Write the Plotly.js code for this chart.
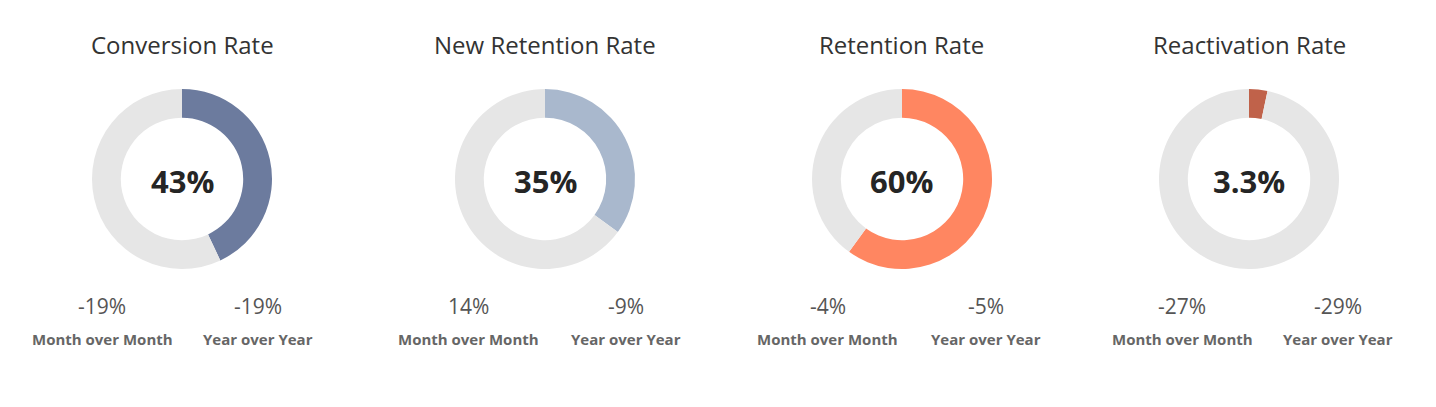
<!DOCTYPE html>
<html>
<head>
<meta charset="utf-8">
<script src="https://cdn.plot.ly/plotly-3.0.1.min.js"></script>
<style>html,body{margin:0;padding:0;background:#fff;}#chart{width:1436px;height:407px;}</style>
</head>
<body>
<div id="chart"></div>
<script>
const titles = ["Conversion Rate", "New Retention Rate", "Retention Rate", "Reactivation Rate"];
const rates = [43, 35, 60, 3.3];
const momChange = [-19, 14, -4, -27];
const yoyChange = [-19, -9, -5, -29];
const changeLabels = ["Month over Month", "Year over Year"];

const colors = ["#6C7B9E", "#A9B8CD", "#FF8661", "#C0624A"];
const restColor = "#E6E6E6";
const W = 1436, H = 407;
const centersX = [182, 545, 902, 1249];
const centerY = 179;
const R = 90;
const momX = [102, 468, 828, 1182];
const yoyX = [258, 626, 986, 1338];

const font = "Segoe UI, 'Open Sans', 'Noto Sans', sans-serif";
const traces = [];
const annotations = [];
const px = x => x / W;
const py = y => 1 - y / H;

rates.forEach((v, i) => {
  traces.push({
    type: "pie",
    values: [v, 100 - v],
    labels: ["value", "rest"],
    marker: {colors: [colors[i], restColor], line: {width: 0}},
    hole: 0.68,
    sort: false,
    direction: "clockwise",
    rotation: 0,
    textinfo: "none",
    hoverinfo: "none",
    showlegend: false,
    domain: {x: [px(centersX[i] - R), px(centersX[i] + R)], y: [py(centerY + R), py(centerY - R)]}
  });
  annotations.push({text: titles[i], x: px(centersX[i]), y: py(45), xref: "paper", yref: "paper", showarrow: false,
    font: {family: font, size: 24, color: "#333"}, xanchor: "center", yanchor: "middle"});
  annotations.push({text: "<b>" + v + "%</b>", x: px(centersX[i]), y: py(181), xref: "paper", yref: "paper", showarrow: false,
    font: {family: font, size: 31, color: "#252525"}, xanchor: "center", yanchor: "middle"});
  annotations.push({text: momChange[i] + "%", x: px(momX[i]), y: py(306), xref: "paper", yref: "paper", showarrow: false,
    font: {family: font, size: 21, color: "#555"}, xanchor: "center", yanchor: "middle"});
  annotations.push({text: yoyChange[i] + "%", x: px(yoyX[i]), y: py(306), xref: "paper", yref: "paper", showarrow: false,
    font: {family: font, size: 21, color: "#555"}, xanchor: "center", yanchor: "middle"});
  annotations.push({text: "<b>" + changeLabels[0] + "</b>", x: px(momX[i]), y: py(339), xref: "paper", yref: "paper", showarrow: false,
    font: {family: font, size: 15, color: "#666"}, xanchor: "center", yanchor: "middle"});
  annotations.push({text: "<b>" + changeLabels[1] + "</b>", x: px(yoyX[i]), y: py(339), xref: "paper", yref: "paper", showarrow: false,
    font: {family: font, size: 15, color: "#666"}, xanchor: "center", yanchor: "middle"});
});

Plotly.newPlot("chart", traces, {
  width: W, height: H,
  margin: {l: 0, r: 0, t: 0, b: 0},
  paper_bgcolor: "#fff",
  annotations: annotations
}, {displayModeBar: false, staticPlot: true});
</script>
</body>
</html>
